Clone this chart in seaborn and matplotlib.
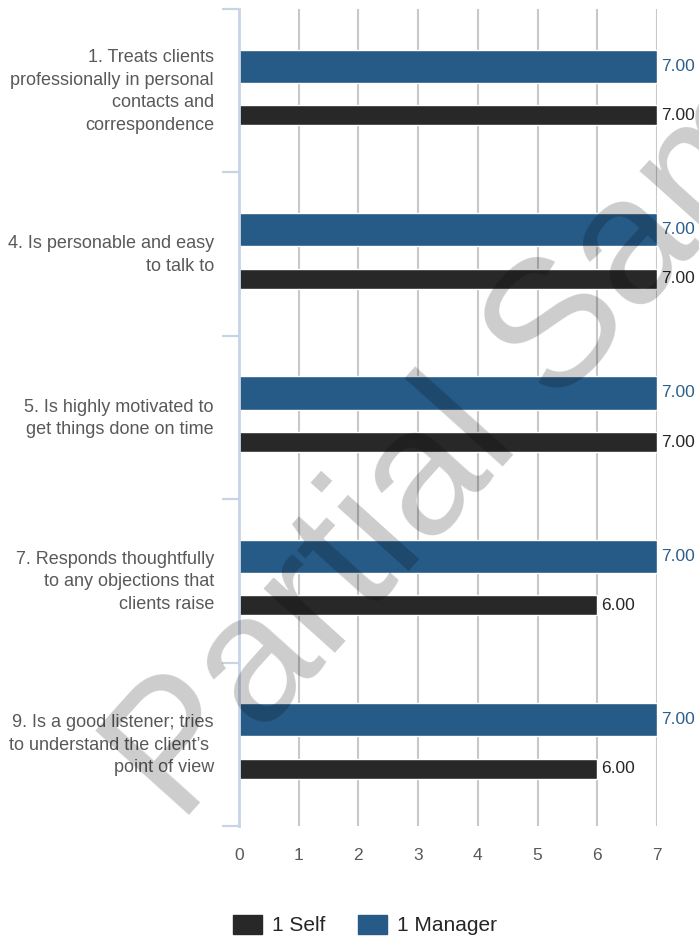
import matplotlib
matplotlib.use("Agg")
import matplotlib.pyplot as plt
import matplotlib.transforms as mtransforms
from matplotlib.patches import Patch
import numpy as np
import pandas as pd
import seaborn as sns

# survey items and scores
items = [
    "1. Treats clients\nprofessionally in personal\ncontacts and\ncorrespondence",
    "4. Is personable and easy\nto talk to",
    "5. Is highly motivated to\nget things done on time",
    "7. Responds thoughtfully\nto any objections that\nclients raise",
    "9. Is a good listener; tries\nto understand the client\u2019s \npoint of view",
]
manager_scores = [7.0, 7.0, 7.0, 7.0, 7.0]
self_scores = [7.0, 7.0, 7.0, 6.0, 6.0]
series = ["1 Manager", "1 Self"]
legend_order = ["1 Self", "1 Manager"]
xticks = [0, 1, 2, 3, 4, 5, 6, 7]

colors = {"1 Manager": "#265B87", "1 Self": "#282828"}
label_colors = {"1 Manager": "#2C5F8C", "1 Self": "#262626"}
bar_heights = {"1 Manager": 0.204, "1 Self": 0.122}
gray = "#595959"
spine_blue = "#C6D4E6"

df = pd.DataFrame({
    "item": items * 2,
    "score": manager_scores + self_scores,
    "rater": ["1 Manager"] * len(items) + ["1 Self"] * len(items),
})

sns.set_style("white")
plt.rcParams["font.family"] = ["Liberation Sans", "DejaVu Sans"]

fig = plt.figure(figsize=(6.99, 9.39), dpi=100)
ax = fig.add_axes([239 / 699, 1 - 826 / 939, 418 / 699, 817 / 939])

sns.barplot(data=df, x="score", y="item", hue="rater", hue_order=series,
            palette=colors, orient="h", width=0.6, dodge=True,
            saturation=1, legend=False, ax=ax)

# thicker manager bars, thinner self bars
for cont, name in zip(ax.containers, series):
    for p in cont:
        c = p.get_y() + p.get_height() / 2
        p.set_height(bar_heights[name])
        p.set_y(c - bar_heights[name] / 2)
    ax.bar_label(cont, fmt="%.2f", padding=3, fontsize=12.5,
                 color=label_colors[name])

ax.set_xlim(0, 7)
ax.set_ylim(len(items) - 0.5, -0.5)
ax.set_xticks(xticks)
ax.set_xticklabels([str(t) for t in xticks], color=gray, fontsize=12.5)
ax.tick_params(axis="x", length=0, pad=16)
ax.tick_params(axis="y", which="major", left=False, length=0, pad=18,
               labelsize=13, labelcolor=gray)
shift = mtransforms.ScaledTranslation(0, 4 / 100, fig.dpi_scale_trans)
for lab in ax.get_yticklabels():
    lab.set_linespacing(1.42)
    lab.set_transform(lab.get_transform() + shift)
ax.set_yticks(np.arange(-0.5, len(items)), minor=True)
ax.tick_params(axis="y", which="minor", left=True, length=12, width=1.6,
               color=spine_blue)
ax.set_xlabel("")
ax.set_ylabel("")

ax.xaxis.grid(True, color="#C8C8C8", linewidth=1.5)
ax.set_axisbelow(True)
for s in ["top", "right", "bottom"]:
    ax.spines[s].set_visible(False)
ax.spines["left"].set_color(spine_blue)
ax.spines["left"].set_linewidth(2)
ax.spines["left"].set_zorder(5)

handles = [Patch(color=colors[n]) for n in legend_order]
fig.legend(handles, legend_order, loc="center", bbox_to_anchor=(0.522, 0.015),
           ncol=2, frameon=False, fontsize=15, handlelength=1.4,
           handleheight=1.05, handletextpad=0.45, columnspacing=1.6,
           labelcolor="#262626")

# watermark
fig.text(180 / 699, 1 - 826 / 939, "Partial Sample", fontsize=130,
         rotation=48, rotation_mode="anchor", ha="left", va="baseline",
         color="black", alpha=0.2, zorder=10)

fig.savefig("out.png", dpi=100)
